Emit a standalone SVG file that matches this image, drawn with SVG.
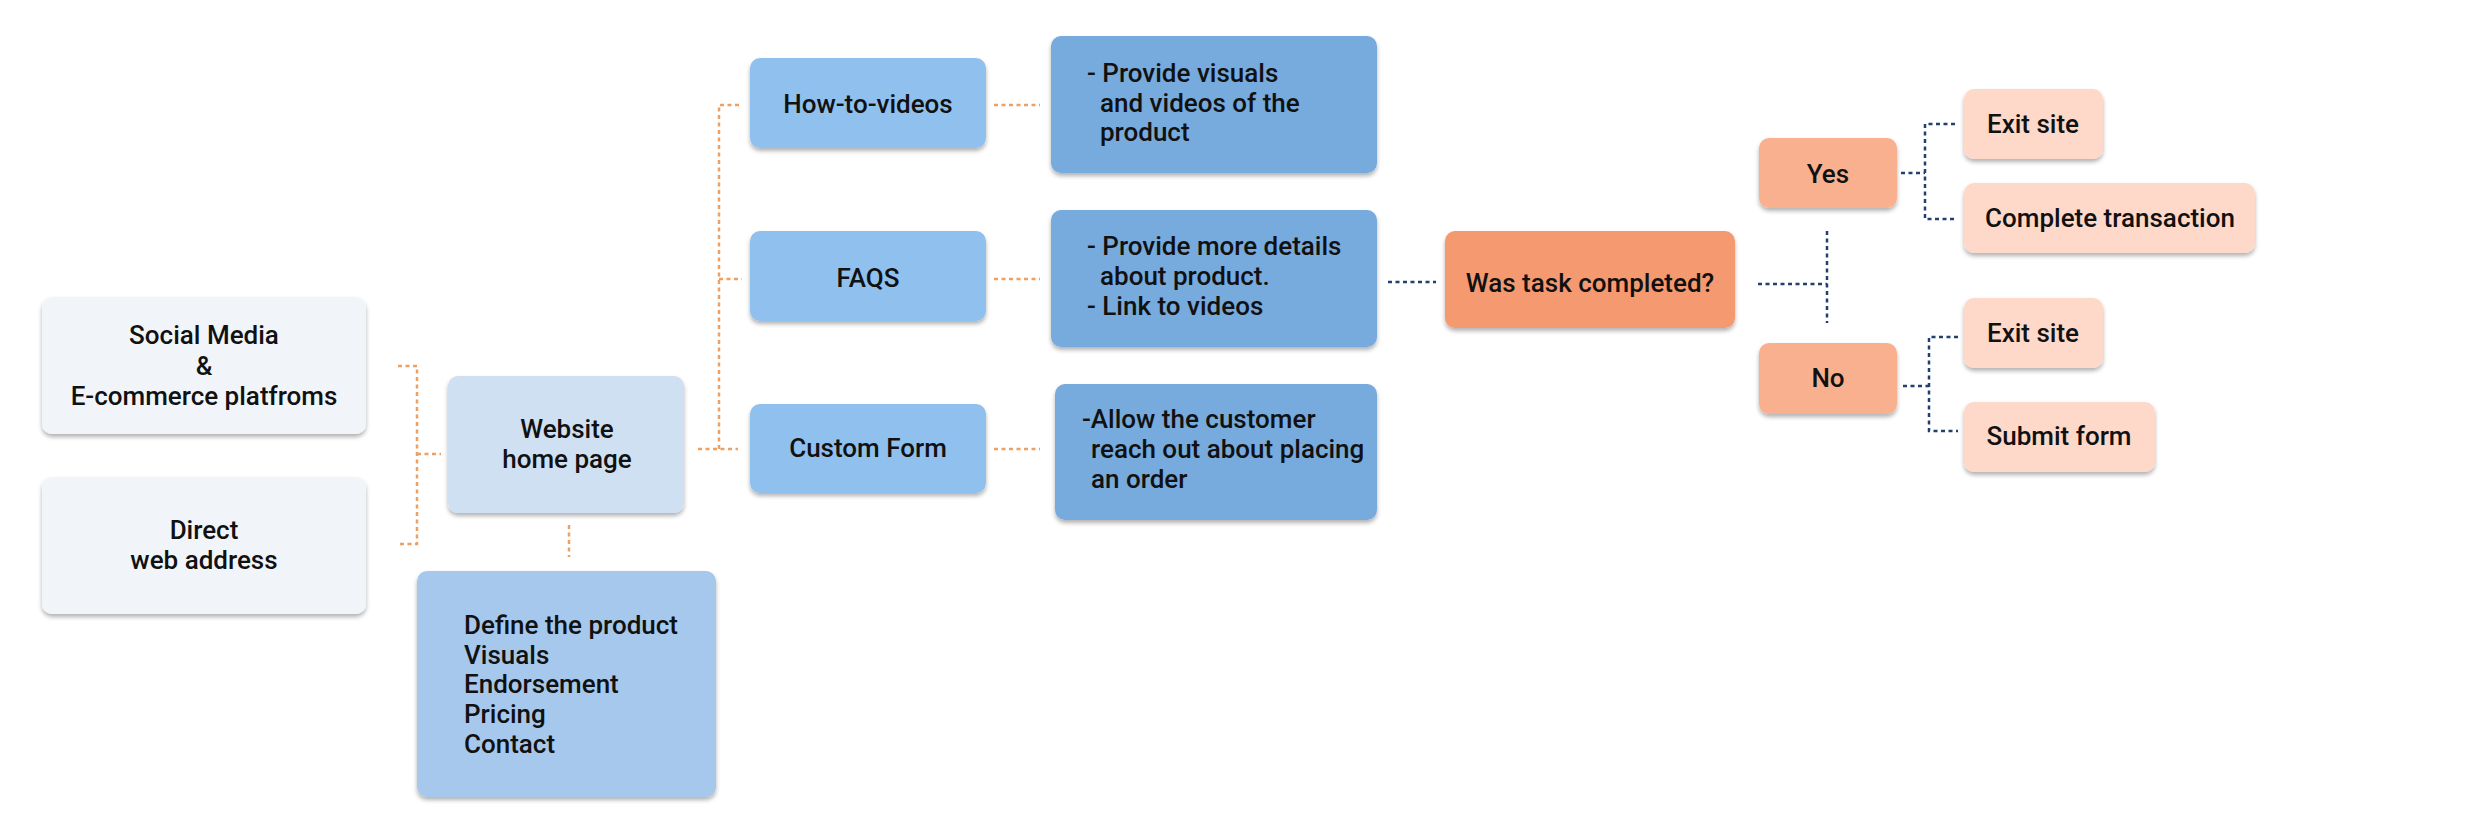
<svg xmlns="http://www.w3.org/2000/svg" width="2488" height="840" viewBox="0 0 2488 840">
<defs>
<filter id="sh" x="-10%" y="-10%" width="120%" height="130%">
<feDropShadow dx="0" dy="3" stdDeviation="2" flood-color="#000" flood-opacity="0.3"/>
</filter>
<style>
.n{filter:url(#sh);}
.t{font-family:Roboto,"Liberation Sans",sans-serif;font-size:26px;font-weight:500;fill:#111;}
.c{text-anchor:middle;}
.o{fill:none;stroke:#eda064;stroke-width:2.5;stroke-dasharray:4 3.5;}
.b{fill:none;stroke:#22406f;stroke-width:2.5;stroke-dasharray:4 3.5;}
</style>
</defs>
<rect width="2488" height="840" fill="#fff"/>
<g id="connectors">
<path class="o" d="M398,366 H417 V544 H398 M417,454 H441"/>
<path class="o" d="M569,525 V557"/>
<path class="o" d="M698,449 H738 M719,449 V105 H742 M719,279 H742"/>
<path class="o" d="M994,105 H1040 M994,279 H1040 M994,449 H1040"/>
<path class="b" d="M1388,282 H1436"/>
<path class="b" d="M1758,284 H1827 M1827,231 V323"/>
<path class="b" d="M1901,173 H1925 M1955,124 H1925 V219 H1955"/>
<path class="b" d="M1903,386 H1929 M1958,337 H1929 V431 H1958"/>
</g>
<g id="social"><rect class="n" x="42" y="297" width="324" height="137" rx="10" fill="#f1f5fa"/>
<text class="t c" x="204"><tspan x="204" y="344">Social Media</tspan><tspan x="204" y="375">&amp;</tspan><tspan x="204" y="405">E-commerce platfroms</tspan></text></g>
<g id="direct"><rect class="n" x="42" y="477" width="324" height="137" rx="10" fill="#f1f5fa"/>
<text class="t c"><tspan x="204" y="539">Direct</tspan><tspan x="204" y="569">web address</tspan></text></g>
<g id="website"><rect class="n" x="448" y="376" width="236" height="137" rx="10" fill="#cfe0f2"/>
<text class="t c"><tspan x="567" y="438">Website</tspan><tspan x="567" y="468">home page</tspan></text></g>
<g id="define"><rect class="n" x="417" y="571" width="299" height="226" rx="10" fill="#a6c8ec"/>
<text class="t"><tspan x="464" y="634">Define the product</tspan><tspan x="464" y="664">Visuals</tspan><tspan x="464" y="693">Endorsement</tspan><tspan x="464" y="723">Pricing</tspan><tspan x="464" y="753">Contact</tspan></text></g>
<g id="howto"><rect class="n" x="750" y="58" width="236" height="90" rx="10" fill="#90c1ee"/>
<text class="t c" x="868" y="113">How-to-videos</text></g>
<g id="faqs"><rect class="n" x="750" y="231" width="236" height="90" rx="10" fill="#90c1ee"/>
<text class="t c" x="868" y="287">FAQS</text></g>
<g id="custom"><rect class="n" x="750" y="404" width="236" height="89" rx="10" fill="#90c1ee"/>
<text class="t c" x="868" y="457">Custom Form</text></g>
<g id="visuals"><rect class="n" x="1051" y="36" width="326" height="137" rx="10" fill="#77aadd"/>
<text class="t"><tspan x="1087" y="82">- Provide visuals</tspan><tspan x="1100" y="112">and videos of the</tspan><tspan x="1100" y="141">product</tspan></text></g>
<g id="details"><rect class="n" x="1051" y="210" width="326" height="137" rx="10" fill="#77aadd"/>
<text class="t"><tspan x="1087" y="255">- Provide more details</tspan><tspan x="1100" y="285">about product.</tspan><tspan x="1087" y="315">- Link to videos</tspan></text></g>
<g id="allow"><rect class="n" x="1055" y="384" width="322" height="136" rx="10" fill="#77aadd"/>
<text class="t"><tspan x="1082" y="428">-Allow the customer</tspan><tspan x="1091" y="458">reach out about placing</tspan><tspan x="1091" y="488">an order</tspan></text></g>
<g id="task"><rect class="n" x="1445" y="231" width="290" height="97" rx="10" fill="#f4996f"/>
<text class="t c" x="1590" y="292">Was task completed?</text></g>
<g id="yes"><rect class="n" x="1759" y="138" width="138" height="70" rx="10" fill="#f9b08e"/>
<text class="t c" x="1828" y="183">Yes</text></g>
<g id="no"><rect class="n" x="1759" y="343" width="138" height="71" rx="10" fill="#f9b08e"/>
<text class="t c" x="1828" y="387">No</text></g>
<g id="exit1"><rect class="n" x="1964" y="89" width="139" height="70" rx="10" fill="#fed9ca"/>
<text class="t c" x="2033" y="133">Exit site</text></g>
<g id="complete"><rect class="n" x="1964" y="183" width="291" height="70" rx="10" fill="#fed9ca"/>
<text class="t c" x="2110" y="227">Complete transaction</text></g>
<g id="exit2"><rect class="n" x="1964" y="298" width="139" height="70" rx="10" fill="#fed9ca"/>
<text class="t c" x="2033" y="342">Exit site</text></g>
<g id="submit"><rect class="n" x="1964" y="402" width="191" height="70" rx="10" fill="#fed9ca"/>
<text class="t c" x="2059" y="445">Submit form</text></g>
</svg>
